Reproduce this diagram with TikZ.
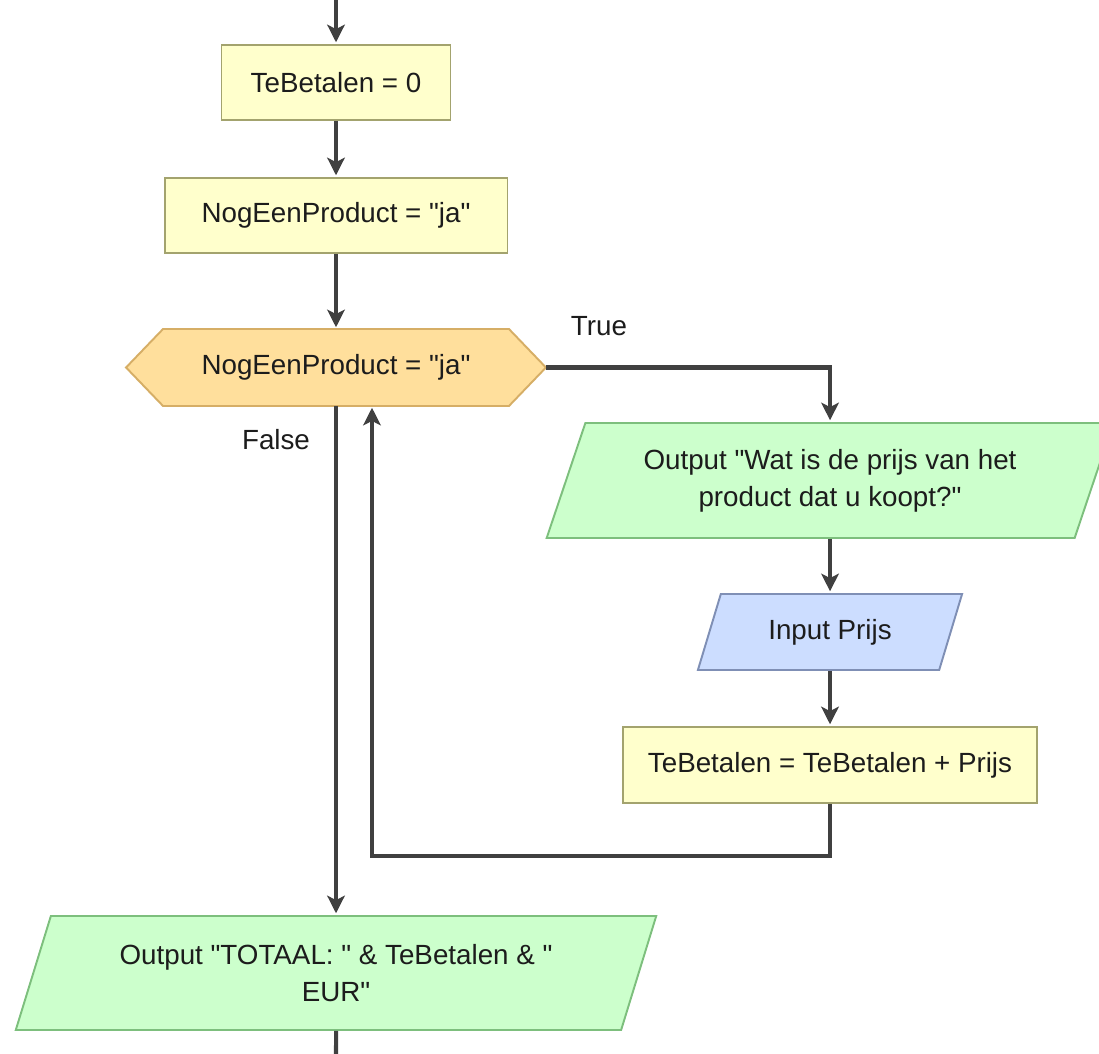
\documentclass[tikz,border=0pt]{standalone}
\usepackage{fontspec}
% plain family without TeX ligature mapping, so " stays a straight quote
\newfontfamily\flowfont{Liberation Sans}
\usetikzlibrary{arrows.meta,shapes.geometric,backgrounds}

\definecolor{procfill}{HTML}{FFFFCC}
\definecolor{procdraw}{HTML}{A3A36E}
\definecolor{decfill}{HTML}{FFDF9C}
\definecolor{decdraw}{HTML}{D6AE66}
\definecolor{outfill}{HTML}{CCFFCC}
\definecolor{outdraw}{HTML}{7DBF7D}
\definecolor{infill}{HTML}{CCDDFF}
\definecolor{indraw}{HTML}{7F8FB5}
\definecolor{flow}{HTML}{404040}
\definecolor{ink}{HTML}{1C1C1C}

\begin{document}
\begin{tikzpicture}[x=0.02cm,y=-0.02cm,
  every node/.style={font=\flowfont\fontsize{15.8}{21}\selectfont, text=ink},
  proc/.style={rectangle, draw=procdraw, fill=procfill, line width=1.1pt, inner sep=0pt},
  decbox/.style={rectangle, inner sep=0pt, outer sep=0pt},
  decshape/.style={draw=decdraw, fill=decfill, line width=1.1pt, line join=miter},
  outbox/.style={shape=trapezium, trapezium stretches=true, draw=outdraw, fill=outfill,
    line width=1.1pt, inner sep=0pt, align=center},
  inbox/.style={shape=trapezium, trapezium stretches=true, draw=indraw, fill=infill,
    line width=1.1pt, inner sep=0pt, align=center},
  lbl/.style={inner sep=0pt},
  flowline/.style={draw=flow, line width=2.3pt,
    -{Stealth[length=10pt,width=10pt,inset=2.5pt]}, shorten >=1pt},
  plainline/.style={draw=flow, line width=2.3pt},
]
\useasboundingbox (0,0) rectangle (1099,1054);
\clip (0,0) rectangle (1099,1054);

% main column
\coordinate (entry) at (336,0);
\node[proc, minimum width=4.58cm, minimum height=1.5cm] (init) at (336,82.5) {TeBetalen = 0};
\node[proc, minimum width=6.86cm, minimum height=1.5cm] (nog) at (336,215.5) {NogEenProduct = "ja"};
\node[decbox, minimum width=8.4cm, minimum height=1.54cm] (dec) at (336,367.5) {NogEenProduct = "ja"};
\begin{scope}[on background layer]
  \draw[decshape] (dec.west) -- ([xshift=0.74cm]dec.north west) -- ([xshift=-0.74cm]dec.north east)
    -- (dec.east) -- ([xshift=-0.74cm]dec.south east) -- ([xshift=0.74cm]dec.south west) -- cycle;
\end{scope}

% loop body
\node[outbox, trapezium left angle=64.84, trapezium right angle=115.16,
  minimum width=11.36cm, minimum height=2.3cm] (ask) at (830,480.5)
  {Output "Wat is de prijs van het\\product dat u koopt?"};
\node[inbox, trapezium left angle=63.43, trapezium right angle=116.57,
  minimum width=5.32cm, minimum height=1.52cm] (price) at (830,632) {Input Prijs};
\node[proc, minimum width=8.28cm, minimum height=1.52cm] (sum) at (830,765)
  {TeBetalen = TeBetalen + Prijs};

% result
\node[outbox, trapezium left angle=65.07, trapezium right angle=114.93,
  minimum width=12.86cm, minimum height=2.28cm] (total) at (336,973)
  {Output "TOTAAL: " \& TeBetalen \& "\\EUR"};
\coordinate (exit) at (336,1054);

% branch labels
\node[lbl] (truelbl) at (599,326) {True};
\node[lbl] (falselbl) at (276,440) {False};

% connectors (kept strictly vertical by taking x from the source)
\draw[flowline] (entry) -- (init.north);
\draw[flowline] (init.south) -- (init.south |- nog.north);
\draw[flowline] (nog.south) -- (nog.south |- dec.north);
\draw[flowline] (dec.east) -| (ask.north);
\draw[flowline] (ask.south) -- (ask.south |- price.north);
\draw[flowline] (price.south) -- (price.south |- sum.north);
\draw[flowline] (sum.south) -- ++(0,52) -| ([xshift=0.72cm]dec.south);
\draw[flowline] (dec.south) -- (dec.south |- total.north);
\draw[plainline] (total.south) -- (exit);
\end{tikzpicture}
\end{document}
